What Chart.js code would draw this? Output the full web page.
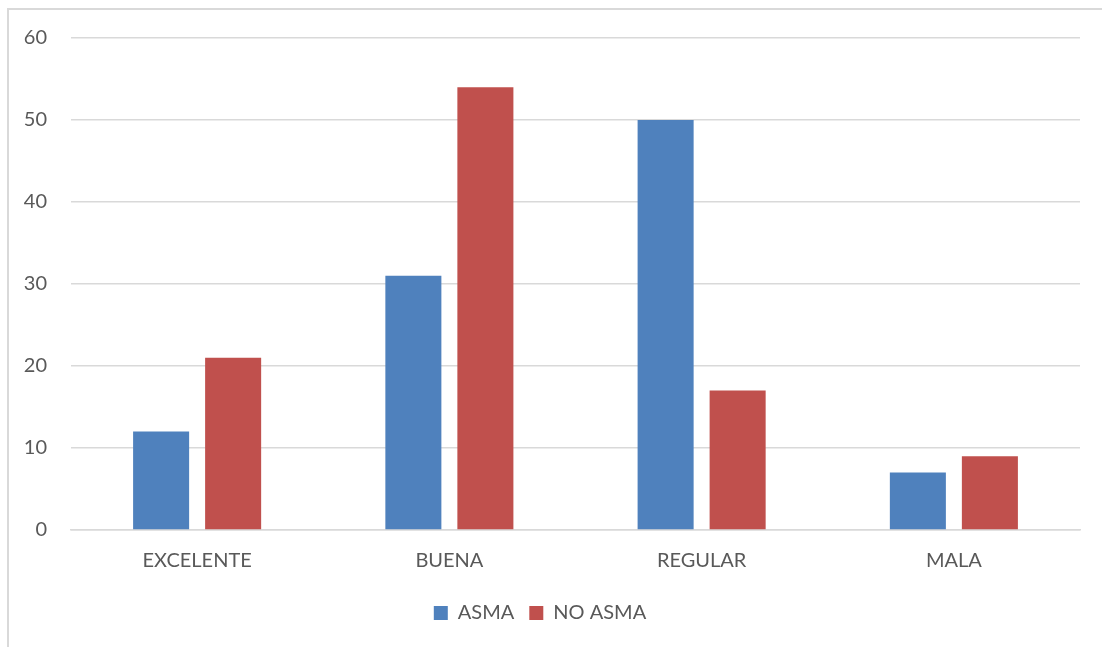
<!DOCTYPE html>
<html>
<head>
<meta charset="utf-8">
<script src="https://cdn.jsdelivr.net/npm/chart.js@4"></script>
<style>
    html, body { margin: 0; padding: 0; background: #fff; }
    .wrap { position: relative; width: 1102px; height: 647px; overflow: hidden; }
    .frame {
        position: absolute; left: 7px; top: 8px; width: 1200px; height: 700px;
        border-left: 2px solid #D9D9D9; border-top: 2px solid #D9D9D9;
    }
    canvas { position: absolute; left: 0; top: 0; }
</style>
</head>
<body>
<div class="wrap">
    <div class="frame"></div>
    <canvas id="chart" width="1102" height="647"></canvas>
</div>
<script>
// Datos
const categorias = ['EXCELENTE', 'BUENA', 'REGULAR', 'MALA'];
const asma = [12, 31, 50, 7];
const noAsma = [21, 54, 17, 9];
const yTicks = [0, 10, 20, 30, 40, 50, 60];

const TEXT_COLOR = '#595959';
const GRID_COLOR = '#D9D9D9';
const FONT = 'Lato, "Open Sans", "Liberation Sans", sans-serif';

Chart.defaults.font.family = FONT;
Chart.defaults.color = TEXT_COLOR;

new Chart(document.getElementById('chart'), {
    type: 'bar',
    data: {
        labels: categorias,
        datasets: [
            { label: 'ASMA', data: asma, backgroundColor: '#4F81BD' },
            { label: 'NO ASMA', data: noAsma, backgroundColor: '#C0504D' }
        ]
    },
    options: {
        responsive: false,
        animation: false,
        layout: { padding: { left: 0, right: 22, top: 38, bottom: 14 } },
        datasets: {
            bar: { categoryPercentage: 0.571, barPercentage: 0.778 }
        },
        scales: {
            x: {
                grid: { display: false, drawTicks: false },
                border: { display: true, color: GRID_COLOR, width: 1.5 },
                ticks: { font: { size: 20 }, color: TEXT_COLOR, padding: 19 },
                afterFit: (scale) => { scale.height = 58; }
            },
            y: {
                min: 0,
                max: 60,
                afterBuildTicks: (scale) => { scale.ticks = yTicks.map(v => ({ value: v })); },
                afterFit: (scale) => { scale.width = 71; },
                grid: { color: GRID_COLOR, lineWidth: 1.5, drawTicks: false },
                border: { display: false },
                ticks: { font: { size: 20 }, color: TEXT_COLOR, padding: 24 }
            }
        },
        plugins: {
            legend: {
                position: 'bottom',
                labels: {
                    boxWidth: 14,
                    boxHeight: 14,
                    font: { size: 20 },
                    color: TEXT_COLOR,
                    padding: 15
                }
            },
            tooltip: { enabled: false }
        }
    }
});
</script>
</body>
</html>
